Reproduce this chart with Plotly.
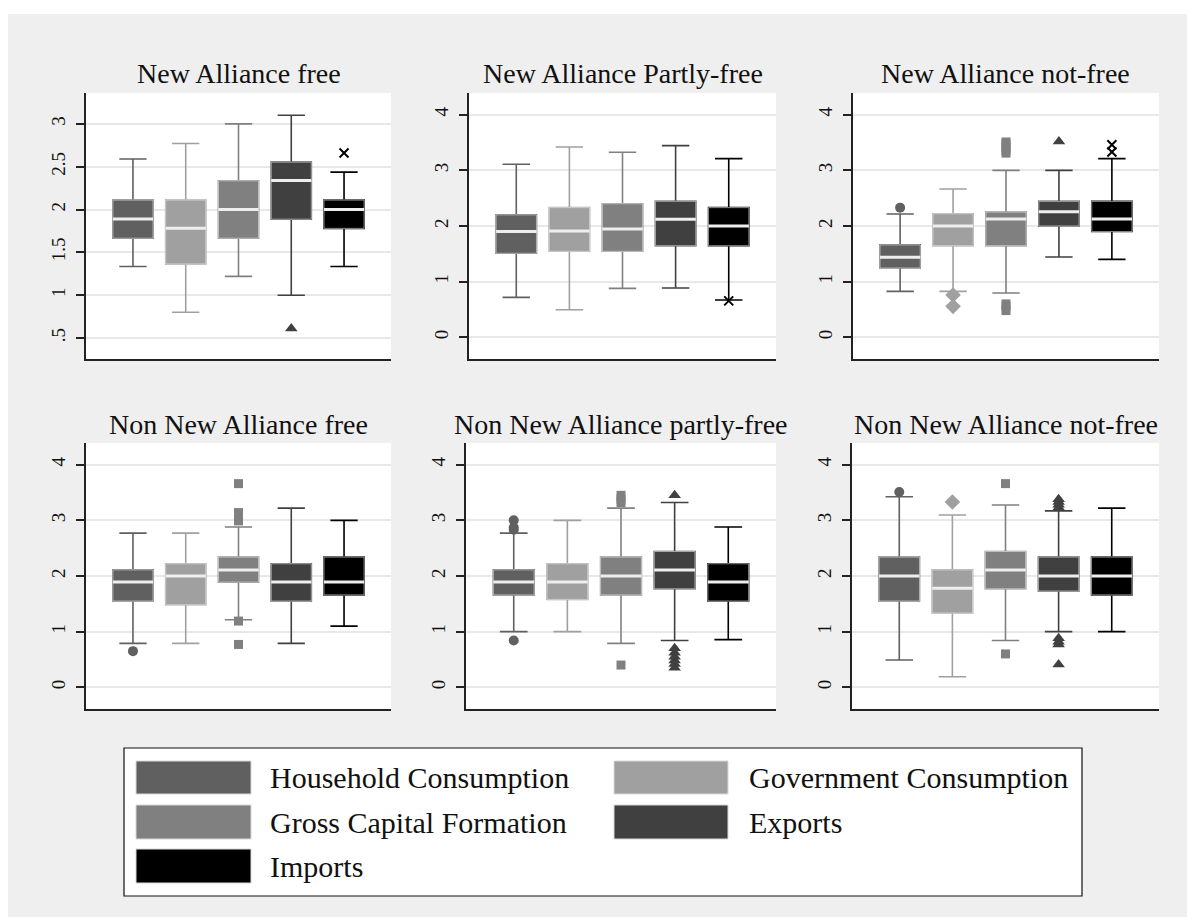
import plotly.graph_objects as go

W, H = 1187, 917

series = ["Household Consumption", "Government Consumption",
          "Gross Capital Formation", "Exports", "Imports"]
colors = ["#606060", "#a0a0a0", "#808080", "#404040", "#000000"]
symbols = ["circle", "diamond", "square", "triangle-up", "x-thin"]

panel_titles = ["New Alliance free", "New Alliance Partly-free", "New Alliance not-free",
                "Non New Alliance free", "Non New Alliance partly-free", "Non New Alliance not-free"]

lower_whisker = [
    [1.334, 0.80, 1.22, 1.00, 1.334],
    [0.717, 0.495, 0.879, 0.885, 0.67],
    [0.826, 0.826, 0.796, 1.443, 1.40],
    [0.79, 0.79, 1.215, 0.79, 1.10],
    [1.00, 1.00, 0.79, 0.84, 0.856],
    [0.49, 0.19, 0.84, 1.00, 1.00],
]
q1 = [
    [1.665, 1.365, 1.665, 1.887, 1.78],
    [1.51, 1.545, 1.545, 1.646, 1.646],
    [1.245, 1.646, 1.646, 2.00, 1.90],
    [1.55, 1.485, 1.89, 1.55, 1.66],
    [1.66, 1.58, 1.66, 1.77, 1.55],
    [1.55, 1.335, 1.77, 1.73, 1.66],
]
median = [
    [1.89, 1.78, 2.00, 2.34, 2.00],
    [1.90, 1.91, 1.946, 2.12, 2.00],
    [1.44, 2.00, 2.126, 2.257, 2.126],
    [1.89, 2.00, 2.11, 1.89, 1.89],
    [1.89, 1.89, 2.00, 2.11, 1.89],
    [2.00, 1.78, 2.11, 2.00, 2.00],
]
q3 = [
    [2.11, 2.11, 2.335, 2.553, 2.11],
    [2.20, 2.33, 2.40, 2.444, 2.33],
    [1.66, 2.22, 2.25, 2.443, 2.443],
    [2.11, 2.22, 2.34, 2.22, 2.34],
    [2.11, 2.22, 2.34, 2.44, 2.22],
    [2.34, 2.11, 2.44, 2.34, 2.34],
]
upper_whisker = [
    [2.59, 2.77, 3.00, 3.10, 2.436],
    [3.11, 3.42, 3.325, 3.445, 3.21],
    [2.215, 2.665, 3.00, 3.00, 3.21],
    [2.77, 2.77, 2.88, 3.22, 3.00],
    [2.77, 3.00, 3.22, 3.32, 2.88],
    [3.425, 3.096, 3.275, 3.17, 3.22],
]
outliers = [
    [[], [], [], [0.61], [2.66]],
    [[], [], [], [], [0.655]],
    [[2.33], [0.76, 0.556], [3.31, 3.36, 3.42, 3.47, 3.51, 0.48, 0.55, 0.60], [3.52], [3.46, 3.33]],
    [[0.65], [], [3.66, 3.14, 3.09, 3.04, 2.99, 1.19, 0.77], [], []],
    [[3.00, 2.87, 2.83, 0.84], [], [3.45, 3.38, 3.32, 0.40], [3.45, 0.70, 0.62, 0.55, 0.48, 0.42, 0.35], []],
    [[3.51], [3.33], [3.66, 0.60], [3.38, 3.33, 3.28, 3.23, 0.88, 0.82, 0.77, 0.41], []],
]

y_ticks_first = [0.5, 1, 1.5, 2, 2.5, 3]
y_ticktext_first = [".5", "1", "1.5", "2", "2.5", "3"]
y_ticks_other = [0, 1, 2, 3, 4]

# layout geometry (pixels)
col_px = [(86, 391), (469, 776), (853, 1159), (86, 391), (466, 776), (852, 1159)]
row_px = [(93, 359), (93, 359), (93, 359), (443, 709), (443, 709), (443, 709)]
title_y_px = [74, 74, 74, 424, 424, 424]
BOX_W = 0.76
FONT = "Liberation Serif, Times New Roman, serif"

def px_x(p):
    return p / W

def px_y(p):
    return 1 - p / H

fig = go.Figure()
layout = dict(
    width=W, height=H, margin=dict(l=0, r=0, t=0, b=0),
    paper_bgcolor="#efefef", plot_bgcolor="white", showlegend=False,
    font=dict(family=FONT, color="#111111"),
)
shapes = [
    dict(type="rect", xref="paper", yref="paper", x0=0, x1=1, y0=px_y(14), y1=1,
         fillcolor="white", line=dict(width=0), layer="below"),
    dict(type="rect", xref="paper", yref="paper", x0=0, x1=px_x(8), y0=0, y1=1,
         fillcolor="white", line=dict(width=0), layer="below"),
]
annotations = []

for p in range(6):
    k = "" if p == 0 else str(p + 1)
    xa, ya = "x" + k, "y" + k
    for s in range(5):
        c = colors[s]
        fig.add_trace(go.Box(
            x=[s], q1=[q1[p][s]], median=[median[p][s]], q3=[q3[p][s]],
            lowerfence=[lower_whisker[p][s]], upperfence=[upper_whisker[p][s]],
            width=BOX_W, whiskerwidth=0.68, fillcolor=c,
            line=dict(color=c, width=1.6), boxpoints=False,
            xaxis=xa, yaxis=ya, name=series[s], hoverinfo="skip",
        ))
        fig.add_trace(go.Box(
            x=[s], q1=[q1[p][s]], median=[median[p][s]], q3=[q3[p][s]],
            lowerfence=[q1[p][s]], upperfence=[q3[p][s]],
            width=BOX_W, whiskerwidth=0, fillcolor=c,
            line=dict(color="rgba(235,235,235,0.6)", width=1), boxpoints=False,
            xaxis=xa, yaxis=ya, name=series[s], hoverinfo="skip",
        ))
        fig.add_trace(go.Scatter(
            x=[s - BOX_W / 2, s + BOX_W / 2], y=[median[p][s], median[p][s]],
            mode="lines", line=dict(color="#eeeeee", width=3),
            xaxis=xa, yaxis=ya, hoverinfo="skip",
        ))
        if outliers[p][s]:
            sym = symbols[s]
            if sym == "x-thin":
                mk = dict(symbol=sym, size=9, color=c, line=dict(color=c, width=2))
            else:
                size = {"circle": 10, "diamond": 12, "square": 9, "triangle-up": 11}[sym]
                mk = dict(symbol=sym, size=size, color=c, line=dict(width=0))
            fig.add_trace(go.Scatter(
                x=[s] * len(outliers[p][s]), y=outliers[p][s], mode="markers",
                marker=mk, xaxis=xa, yaxis=ya, hoverinfo="skip",
            ))

    x0, x1 = col_px[p]
    yt, yb = row_px[p]
    if p == 0:
        yr = [0.255, 3.36]
        tv, tt = y_ticks_first, y_ticktext_first
    else:
        yr = [-0.39, 4.39]
        tv, tt = y_ticks_other, [str(v) for v in y_ticks_other]
    layout["xaxis" + k] = dict(
        domain=[px_x(x0), px_x(x1)], anchor=ya, range=[-0.89, 4.89],
        showline=True, linecolor="#222222", linewidth=1.6, showgrid=False,
        zeroline=False, showticklabels=False, ticks="",
    )
    layout["yaxis" + k] = dict(
        domain=[px_y(yb), px_y(yt)], anchor=xa, range=yr,
        tickvals=tv, ticktext=tt, tickangle=-90,
        showline=True, linecolor="#222222", linewidth=1.6,
        ticks="outside", ticklen=8, tickwidth=1.5, tickcolor="#222222",
        showgrid=True, gridcolor="#e8e8e8", gridwidth=1.5, zeroline=False,
        tickfont=dict(size=19, family=FONT, color="#111111"),
        ticklabelstandoff=4,
    )
    annotations.append(dict(
        text=panel_titles[p], xref="paper", yref="paper",
        x=px_x((x0 + x1) / 2), y=px_y(title_y_px[p]), xanchor="center", yanchor="middle",
        showarrow=False, font=dict(size=28, family=FONT, color="#111111"),
    ))

# legend (drawn manually to match large swatches)
shapes.append(dict(type="rect", xref="paper", yref="paper",
                   x0=px_x(124), x1=px_x(1082), y0=px_y(896), y1=px_y(748),
                   fillcolor="white", line=dict(color="#111111", width=1.2)))
leg_cols = [(136, 251, 268), (614, 728, 747)]
leg_rows = [(761, 794), (805, 839), (849, 883)]
for i, name in enumerate(series):
    r, cidx = divmod(i, 2)
    sx0, sx1, tx = leg_cols[cidx]
    sy0, sy1 = leg_rows[r]
    shapes.append(dict(type="rect", xref="paper", yref="paper",
                       x0=px_x(sx0), x1=px_x(sx1), y0=px_y(sy1), y1=px_y(sy0),
                       fillcolor=colors[i], line=dict(color="#d8d8d8", width=1)))
    annotations.append(dict(
        text=name, xref="paper", yref="paper", x=px_x(tx), y=px_y((sy0 + sy1) / 2),
        xanchor="left", yanchor="middle", showarrow=False,
        font=dict(size=30, family=FONT, color="#111111"),
    ))

layout["shapes"] = shapes
layout["annotations"] = annotations
fig.update_layout(**layout)
fig.write_html("out.html")
